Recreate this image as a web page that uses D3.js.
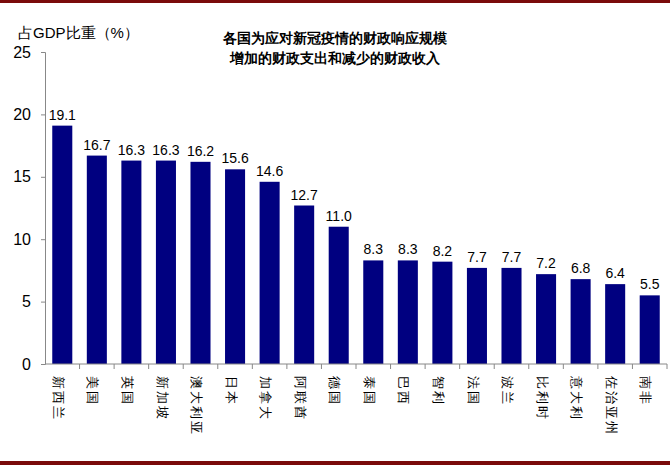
<!DOCTYPE html><html><head><meta charset="utf-8"><script src="https://cdn.jsdelivr.net/npm/d3@7"></script>
<style>body{margin:0;background:#fff}text{font-family:"Liberation Sans",Arial,sans-serif}</style></head><body><svg id="c" width="670" height="465"></svg>
<script>
const categories=["新西兰","美国","英国","新加坡","澳大利亚","日本","加拿大","阿联酋","德国","泰国","巴西","智利","法国","波兰","比利时","意大利","佐治亚州","南非"];
const values=[19.1,16.7,16.3,16.3,16.2,15.6,14.6,12.7,11.0,8.3,8.3,8.2,7.7,7.7,7.2,6.8,6.4,5.5];
const yTicks=[0,5,10,15,20,25];
const svg=d3.select("#c");
svg.append("rect").attr("x",0).attr("y",0).attr("width",670).attr("height",3).attr("fill","#7a0a0a");
svg.append("rect").attr("x",0).attr("y",461).attr("width",670).attr("height",4).attr("fill","#7a0a0a");
const x=d3.scaleBand().domain(categories).range([45,667]).paddingInner(0.42).paddingOuter(0.21);
const y=d3.scaleLinear().domain([0,25]).range([364,52]);
svg.append("g").attr("transform","translate(45,0)").call(d3.axisLeft(y).tickValues(yTicks).tickSize(4).tickPadding(10))
 .call(g=>{g.selectAll("text").attr("font-size",16).attr("fill","#000");g.selectAll("path,line").attr("stroke","#888");});
svg.selectAll(".bar").data(values).join("rect").attr("x",(d,i)=>x(categories[i])).attr("y",d=>y(d)).attr("width",x.bandwidth()).attr("height",d=>y(0)-y(d)).attr("fill","#000080");
svg.selectAll(".vl").data(values).join("text").attr("x",(d,i)=>x(categories[i])+x.bandwidth()/2).attr("y",d=>y(d)-6).attr("text-anchor","middle").attr("font-size",14).text(d=>d.toFixed(1));
svg.append("line").attr("x1",45).attr("x2",667).attr("y1",364).attr("y2",364).attr("stroke","#888");
categories.forEach((c,i)=>{const bx=45+(i+1)*(622/18);
 svg.append("line").attr("x1",bx).attr("x2",bx).attr("y1",364).attr("y2",369).attr("stroke","#888");
 const cx=x(c)+x.bandwidth()/2;
 svg.append("text").attr("font-family","Noto Sans CJK SC").attr("font-size",13).attr("letter-spacing",2)
  .attr("transform",`translate(${cx-5},376) rotate(90)`).attr("dominant-baseline","middle").text(c);
});
svg.append("text").attr("x",18).attr("y",38).attr("font-size",15).attr("font-family","Noto Sans CJK SC").text("占GDP比重（%）");
svg.append("text").attr("x",335).attr("y",43).attr("text-anchor","middle").attr("font-size",14).attr("font-weight","bold").attr("font-family","Noto Sans CJK SC").text("各国为应对新冠疫情的财政响应规模");
svg.append("text").attr("x",335).attr("y",63).attr("text-anchor","middle").attr("font-size",14).attr("font-weight","bold").attr("font-family","Noto Sans CJK SC").text("增加的财政支出和减少的财政收入");
</script></body></html>
